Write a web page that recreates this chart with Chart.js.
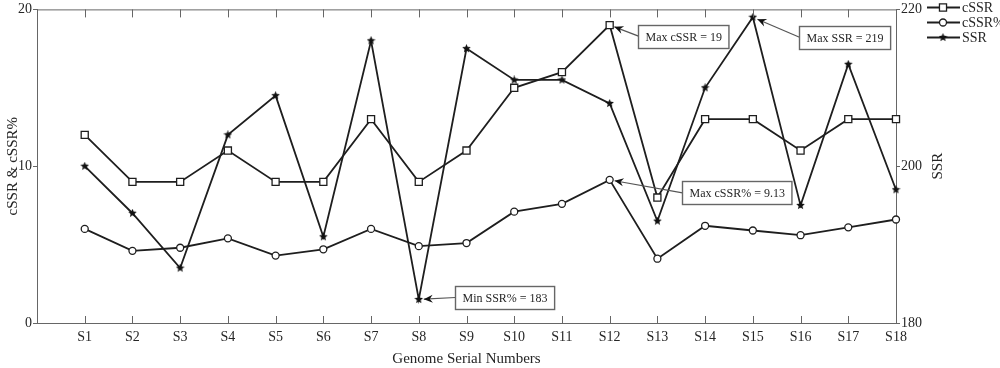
<!DOCTYPE html>
<html>
<head>
<meta charset="utf-8">
<script src="https://cdn.jsdelivr.net/npm/chart.js@4.4.1/dist/chart.umd.min.js"></script>
<style>
  html, body { margin: 0; padding: 0; background: #fff; }
  #wrap { width: 1000px; height: 368px; }
</style>
</head>
<body>
<div id="wrap"><canvas id="chart"></canvas></div>
<script>
// cSSR / cSSR% / SSR per genome
const genomes = ["S1", "S2", "S3", "S4", "S5", "S6", "S7", "S8", "S9", "S10",
                 "S11", "S12", "S13", "S14", "S15", "S16", "S17", "S18"];
const cssr    = [12, 9, 9, 11, 9, 9, 13, 9, 11, 15, 16, 19, 8, 13, 13, 11, 13, 13];
const cssrPct = [6.0, 4.6, 4.8, 5.4, 4.3, 4.7, 6.0, 4.9, 5.1, 7.1, 7.6, 9.13, 4.1, 6.2, 5.9, 5.6, 6.1, 6.6];
const ssr     = [200, 194, 187, 204, 209, 191, 216, 183, 215, 211, 211, 208, 193, 210, 219, 195, 213, 197];

const leftTicks  = [0, 10, 20];
const rightTicks = [180, 200, 220];

// callouts: text, dataset index, genome index
const noteText   = ["Max cSSR = 19", "Max SSR = 219", "Max cSSR% = 9.13", "Min SSR% = 183"];
const noteSeries = [0, 2, 1, 2];
const notePoint  = [11, 14, 11, 7];

const FONT = '"Liberation Serif", "DejaVu Serif", serif';
const INK = "#1e1e1e";
const AXIS = "#666";
const TEXT = "#262626";

// box centre offset from the pointed-at marker (px)
const noteOffset = [[74, 11], [92, 20], [127, 13], [86, -2]];

function starImage(size) {
  const c = document.createElement("canvas");
  c.width = size; c.height = size;
  const g = c.getContext("2d");
  const r = size / 2, ri = r * 0.45;
  g.beginPath();
  for (let k = 0; k < 10; k++) {
    const rr = k % 2 === 0 ? r : ri;
    const a = -Math.PI / 2 + k * Math.PI / 5;
    const px = r + rr * Math.cos(a), py = r + rr * Math.sin(a);
    if (k === 0) g.moveTo(px, py); else g.lineTo(px, py);
  }
  g.closePath();
  g.fillStyle = "#111";
  g.fill();
  return c;
}
const star = starImage(9);

function toPoints(arr) {
  return arr.map((v, i) => ({ x: i + 1, y: v }));
}

const framePlugin = {
  id: "frame",
  afterDraw(chart) {
    const { ctx, chartArea: a, scales } = chart;
    ctx.save();

    // top border + inward x ticks (top and bottom)
    ctx.strokeStyle = AXIS;
    ctx.lineWidth = 1;
    ctx.beginPath();
    ctx.moveTo(a.left, a.top + 0.5);
    ctx.lineTo(a.right, a.top + 0.5);
    genomes.forEach((g, i) => {
      const px = Math.round(scales.x.getPixelForValue(i + 1)) + 0.5;
      ctx.moveTo(px, a.bottom);
      ctx.lineTo(px, a.bottom - 7);
      ctx.moveTo(px, a.top);
      ctx.lineTo(px, a.top + 8);
    });
    ctx.stroke();

    // right axis title, reading bottom to top
    ctx.fillStyle = TEXT;
    ctx.font = "15px " + FONT;
    ctx.textAlign = "center";
    ctx.textBaseline = "middle";
    ctx.translate(938, (a.top + a.bottom) / 2);
    ctx.rotate(-Math.PI / 2);
    ctx.fillText("SSR", 0, 0);
    ctx.setTransform(1, 0, 0, 1, 0, 0);

    // legend (line + marker)
    chart.data.datasets.forEach((ds, k) => {
      const y = 7.5 + k * 15;
      ctx.strokeStyle = INK;
      ctx.lineWidth = 1.8;
      ctx.beginPath();
      ctx.moveTo(927, y);
      ctx.lineTo(960, y);
      ctx.stroke();
      ctx.fillStyle = "#fff";
      ctx.lineWidth = 1.3;
      Chart.helpers.drawPoint(ctx, {
        pointStyle: ds.pointStyle, radius: ds.pointRadius, rotation: 0, borderWidth: 1.3
      }, 943, y);
      ctx.fillStyle = TEXT;
      ctx.font = "14px " + FONT;
      ctx.textAlign = "left";
      ctx.textBaseline = "middle";
      ctx.fillText(ds.label, 962, y + 1);
    });

    // callouts
    noteText.forEach((text, n) => {
      const el = chart.getDatasetMeta(noteSeries[n]).data[notePoint[n]];
      const tx = el.x, ty = el.y;
      ctx.font = "12px " + FONT;
      const w = ctx.measureText(text).width + 14, h = 23;
      const cx = tx + noteOffset[n][0], cy = ty + noteOffset[n][1];
      const bx = Math.round(cx - w / 2) + 0.5, by = Math.round(cy - h / 2) + 0.5;

      // arrow
      const ang = Math.atan2(ty - cy, tx - bx);
      const ex = tx - Math.cos(ang) * 5, ey = ty - Math.sin(ang) * 5;
      ctx.strokeStyle = "#555";
      ctx.lineWidth = 1.2;
      ctx.beginPath();
      ctx.moveTo(bx, cy);
      ctx.lineTo(ex, ey);
      ctx.stroke();
      ctx.save();
      ctx.translate(ex, ey);
      ctx.rotate(ang);
      ctx.fillStyle = "#111";
      ctx.beginPath();
      ctx.moveTo(0, 0);
      ctx.lineTo(-9, -4);
      ctx.lineTo(-6, 0);
      ctx.lineTo(-9, 4);
      ctx.closePath();
      ctx.fill();
      ctx.restore();

      // box
      ctx.fillStyle = "#fff";
      ctx.fillRect(bx, by, w, h);
      ctx.strokeStyle = AXIS;
      ctx.lineWidth = 1.4;
      ctx.strokeRect(bx, by, w, h);
      ctx.fillStyle = TEXT;
      ctx.textAlign = "center";
      ctx.textBaseline = "middle";
      ctx.fillText(text, bx + w / 2, by + h / 2 + 1);
    });

    ctx.restore();
  }
};

const lineStyle = {
  borderColor: INK,
  borderWidth: 1.8,
  pointBorderColor: INK,
  pointBackgroundColor: "#fff",
  pointBorderWidth: 1.3,
  tension: 0,
  clip: false
};

const ctx = document.getElementById("chart").getContext("2d");
new Chart(ctx, {
  type: "line",
  data: {
    datasets: [
      { ...lineStyle, label: "cSSR", data: toPoints(cssr), yAxisID: "y", pointStyle: "rect", pointRadius: 5 },
      { ...lineStyle, label: "cSSR%", data: toPoints(cssrPct), yAxisID: "y", pointStyle: "circle", pointRadius: 3.5 },
      { ...lineStyle, label: "SSR", data: toPoints(ssr), yAxisID: "y1", pointStyle: star, pointRadius: 4.5 }
    ]
  },
  options: {
    responsive: true,
    maintainAspectRatio: false,
    animation: false,
    layout: { padding: { top: 8, left: 0, right: 0, bottom: 0 } },
    plugins: {
      legend: { display: false },
      tooltip: { enabled: false }
    },
    scales: {
      x: {
        type: "linear",
        min: 0,
        max: 18,
        afterBuildTicks: (s) => { s.ticks = genomes.map((g, i) => ({ value: i + 1 })); },
        afterFit: (s) => { s.height = 45; },
        grid: { display: false, drawTicks: false },
        border: { display: true, color: AXIS, width: 1 },
        ticks: {
          autoSkip: false, maxRotation: 0, padding: 6,
          color: TEXT, font: { family: FONT, size: 14 },
          callback: (v) => genomes[v - 1] || ""
        },
        title: {
          display: true, text: "Genome Serial Numbers", color: TEXT,
          font: { family: FONT, size: 15 }, padding: { top: 2, bottom: 0 }
        }
      },
      y: {
        position: "left",
        min: 0,
        max: 20,
        afterBuildTicks: (s) => { s.ticks = leftTicks.map((v) => ({ value: v })); },
        afterFit: (s) => { s.width = 37; },
        grid: { drawOnChartArea: false, tickLength: 4, color: AXIS },
        border: { display: true, color: AXIS, width: 1 },
        ticks: { padding: 1, color: TEXT, font: { family: FONT, size: 14 } },
        title: {
          display: true, text: "cSSR & cSSR%", color: TEXT,
          font: { family: FONT, size: 15 }, padding: { top: 4, bottom: 0 }
        }
      },
      y1: {
        position: "right",
        min: 180,
        max: 220,
        afterBuildTicks: (s) => { s.ticks = rightTicks.map((v) => ({ value: v })); },
        afterFit: (s) => { s.width = 104; },
        grid: { drawOnChartArea: false, tickLength: 4, color: AXIS },
        border: { display: true, color: AXIS, width: 1 },
        ticks: { padding: 1, color: TEXT, font: { family: FONT, size: 14 } }
      }
    }
  },
  plugins: [framePlugin]
});
</script>
</body>
</html>
